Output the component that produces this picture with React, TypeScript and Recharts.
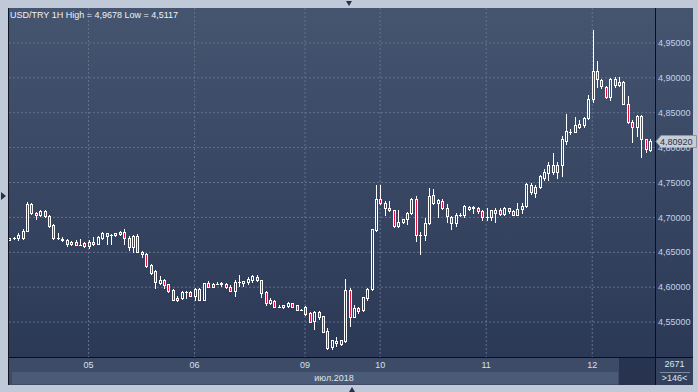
import { Bar, CartesianGrid, ComposedChart, ReferenceLine, XAxis, YAxis } from "recharts";

// hourly USD/TRY candles, 146 bars
const opens = [
  4.668, 4.671, 4.671, 4.67, 4.681, 4.719, 4.706, 4.703, 4.709, 4.702,
  4.689, 4.67, 4.667, 4.667, 4.662, 4.665, 4.661, 4.663, 4.659, 4.665,
  4.662, 4.67, 4.677, 4.675, 4.675, 4.676, 4.679, 4.67, 4.658, 4.673,
  4.651, 4.648, 4.632, 4.623, 4.606, 4.61, 4.604, 4.596, 4.581, 4.584,
  4.593, 4.593, 4.588, 4.598, 4.582, 4.606, 4.601, 4.605, 4.604, 4.605,
  4.601, 4.595, 4.607, 4.606, 4.607, 4.61, 4.614, 4.61, 4.593, 4.577,
  4.58, 4.571, 4.571, 4.573, 4.577, 4.574, 4.568, 4.572, 4.563, 4.551,
  4.565, 4.559, 4.537, 4.514, 4.52, 4.518, 4.523, 4.596, 4.558, 4.57,
  4.567, 4.585, 4.597, 4.682, 4.726, 4.713, 4.713, 4.71, 4.687, 4.693,
  4.697, 4.707, 4.726, 4.675, 4.675, 4.692, 4.732, 4.72, 4.724, 4.714,
  4.701, 4.692, 4.704, 4.703, 4.712, 4.713, 4.714, 4.709, 4.7, 4.7,
  4.706, 4.71, 4.705, 4.713, 4.709, 4.704, 4.712, 4.716, 4.746, 4.735,
  4.743, 4.757, 4.764, 4.775, 4.765, 4.775, 4.81, 4.823, 4.823, 4.83,
  4.832, 4.842, 4.87, 4.91, 4.897, 4.887, 4.873, 4.898, 4.889, 4.894,
  4.863, 4.836, 4.829, 4.845, 4.812, 4.797,
];
const highs = [
  4.671, 4.672, 4.678, 4.683, 4.722, 4.72, 4.708, 4.711, 4.71, 4.703,
  4.69, 4.677, 4.672, 4.669, 4.666, 4.667, 4.669, 4.665, 4.668, 4.672,
  4.673, 4.679, 4.678, 4.676, 4.678, 4.68, 4.683, 4.674, 4.675, 4.676,
  4.652, 4.649, 4.633, 4.624, 4.616, 4.612, 4.605, 4.597, 4.587, 4.594,
  4.594, 4.595, 4.599, 4.599, 4.606, 4.609, 4.606, 4.607, 4.607, 4.606,
  4.603, 4.61, 4.618, 4.609, 4.614, 4.618, 4.617, 4.61, 4.594, 4.584,
  4.581, 4.575, 4.574, 4.579, 4.578, 4.575, 4.569, 4.573, 4.564, 4.566,
  4.566, 4.559, 4.541, 4.525, 4.529, 4.524, 4.612, 4.599, 4.575, 4.571,
  4.586, 4.599, 4.683, 4.746, 4.746, 4.724, 4.723, 4.711, 4.71, 4.698,
  4.708, 4.728, 4.731, 4.679, 4.699, 4.742, 4.741, 4.727, 4.726, 4.719,
  4.702, 4.706, 4.706, 4.718, 4.716, 4.716, 4.715, 4.711, 4.713, 4.711,
  4.713, 4.714, 4.715, 4.714, 4.71, 4.72, 4.72, 4.749, 4.75, 4.746,
  4.761, 4.769, 4.78, 4.792, 4.78, 4.816, 4.848, 4.826, 4.844, 4.84,
  4.844, 4.876, 4.9678, 4.924, 4.898, 4.888, 4.899, 4.901, 4.901, 4.896,
  4.874, 4.84, 4.846, 4.846, 4.813, 4.813,
];
const lows = [
  4.667, 4.669, 4.668, 4.669, 4.68, 4.705, 4.697, 4.702, 4.701, 4.686,
  4.669, 4.669, 4.666, 4.659, 4.661, 4.66, 4.66, 4.657, 4.656, 4.66,
  4.662, 4.669, 4.662, 4.662, 4.674, 4.675, 4.662, 4.654, 4.651, 4.65,
  4.643, 4.629, 4.619, 4.599, 4.604, 4.599, 4.593, 4.581, 4.58, 4.583,
  4.584, 4.587, 4.581, 4.581, 4.581, 4.6, 4.6, 4.604, 4.602, 4.599,
  4.594, 4.587, 4.602, 4.602, 4.605, 4.607, 4.609, 4.586, 4.575, 4.576,
  4.571, 4.571, 4.57, 4.572, 4.571, 4.567, 4.567, 4.56, 4.55, 4.54,
  4.555, 4.536, 4.5117, 4.512, 4.516, 4.517, 4.521, 4.545, 4.558, 4.563,
  4.566, 4.582, 4.596, 4.68, 4.719, 4.703, 4.709, 4.686, 4.686, 4.692,
  4.69, 4.705, 4.666, 4.647, 4.667, 4.691, 4.719, 4.7, 4.712, 4.694,
  4.684, 4.688, 4.702, 4.701, 4.711, 4.707, 4.707, 4.696, 4.696, 4.696,
  4.694, 4.704, 4.704, 4.706, 4.703, 4.703, 4.706, 4.715, 4.734, 4.729,
  4.742, 4.754, 4.754, 4.762, 4.757, 4.76, 4.805, 4.82, 4.822, 4.828,
  4.829, 4.841, 4.866, 4.887, 4.885, 4.871, 4.868, 4.887, 4.888, 4.862,
  4.835, 4.808, 4.817, 4.786, 4.793, 4.795,
];
const closes = [
  4.67, 4.671, 4.675, 4.681, 4.719, 4.706, 4.703, 4.709, 4.702, 4.688,
  4.67, 4.67, 4.669, 4.662, 4.665, 4.661, 4.661, 4.659, 4.665, 4.662,
  4.672, 4.677, 4.673, 4.675, 4.677, 4.679, 4.67, 4.658, 4.673, 4.651,
  4.647, 4.63, 4.621, 4.608, 4.61, 4.603, 4.595, 4.582, 4.585, 4.593,
  4.593, 4.588, 4.598, 4.582, 4.606, 4.601, 4.605, 4.605, 4.606, 4.601,
  4.595, 4.607, 4.607, 4.609, 4.612, 4.616, 4.61, 4.591, 4.577, 4.581,
  4.571, 4.571, 4.574, 4.577, 4.572, 4.568, 4.568, 4.562, 4.55, 4.565,
  4.557, 4.536, 4.513, 4.524, 4.523, 4.524, 4.596, 4.558, 4.57, 4.566,
  4.586, 4.597, 4.683, 4.727, 4.72, 4.72, 4.71, 4.687, 4.693, 4.697,
  4.707, 4.726, 4.675, 4.675, 4.692, 4.73, 4.72, 4.725, 4.714, 4.702,
  4.692, 4.704, 4.704, 4.716, 4.715, 4.715, 4.709, 4.7, 4.7, 4.71,
  4.711, 4.705, 4.713, 4.709, 4.704, 4.712, 4.716, 4.748, 4.737, 4.743,
  4.76, 4.765, 4.775, 4.765, 4.775, 4.813, 4.824, 4.823, 4.833, 4.834,
  4.842, 4.87, 4.91, 4.898, 4.888, 4.873, 4.898, 4.889, 4.894, 4.863,
  4.836, 4.829, 4.845, 4.812, 4.798, 4.8092,
];

const dayTicks = [18, 42, 67, 84, 108, 132];
const dayLabels = ["05", "06", "09", "10", "11", "12"];
const priceTicks = [4.55, 4.6, 4.65, 4.7, 4.75, 4.8, 4.85, 4.9, 4.95];

const data = opens.map((o, i) => ({
  i,
  o,
  h: highs[i],
  l: lows[i],
  c: closes[i],
  range: [lows[i], highs[i]],
}));

const lastClose = closes[closes.length - 1];
const fmt = (v: number, d: number) => v.toFixed(d).replace(".", ",");

function Candle(props: any) {
  const { x, y, width, height, payload } = props;
  if (x == null || y == null) return null;
  const { o, h, l, c } = payload;
  const y0 = Math.min(y, y + height);
  const hh = Math.abs(height);
  const span = h - l || 1;
  const py = (v: number) => y0 + ((h - v) / span) * hh;
  const cx = Math.round(x + width / 2);
  const top = Math.round(py(Math.max(o, c)));
  const bot = Math.round(py(Math.min(o, c)));
  const hi = Math.round(py(h));
  const lo = Math.round(py(l));
  const down = c < o;
  return (
    <g>
      {hi < top && <line x1={cx + 0.5} x2={cx + 0.5} y1={hi} y2={top} stroke="#fff" />}
      {lo > bot && <line x1={cx + 0.5} x2={cx + 0.5} y1={bot + 1} y2={lo + 1} stroke="#fff" />}
      {bot - top < 2 ? (
        <rect x={cx - 1} y={top} width={3} height={Math.max(bot - top + 1, 1)} fill="#fff" />
      ) : (
        <rect
          x={cx - 0.5}
          y={top + 0.5}
          width={2}
          height={bot - top}
          fill={down ? "#e3123e" : "none"}
          stroke="#fff"
        />
      )}
    </g>
  );
}

function PriceTag(props: any) {
  const vb = props.viewBox;
  if (!vb) return null;
  const y = Math.round(vb.y);
  const x = vb.x + vb.width;
  return (
    <g>
      <polygon
        points={`${x + 1},${y + 0.5} ${x + 6},${y - 5.5} ${x + 41.5},${y - 5.5} ${x + 41.5},${y + 6.5} ${x + 6},${y + 6.5}`}
        fill="#c7ccd5"
        stroke="#8c95a5"
      />
      <text x={x + 5} y={y + 4} fontSize={9} fill="#25324a" fontFamily="'Liberation Sans', Arial, sans-serif">
        {fmt(lastClose, 5)}
      </text>
    </g>
  );
}

const abs = (l: number, t: number, w: number, h: number, bg: string) => (
  <div style={{ position: "absolute", left: l, top: t, width: w, height: h, background: bg }} />
);

export default function App() {
  return (
    <div
      style={{
        position: "absolute",
        left: 0,
        top: 0,
        width: 698,
        height: 392,
        overflow: "hidden",
        background: "#bfc9d8",
        fontFamily: "'Liberation Sans', Arial, sans-serif",
      }}
    >
      {abs(9, 8, 684, 350, "linear-gradient(#45546f, #2b3956)")}
      {abs(9, 358, 610, 27, "#3d4b66")}
      {abs(12, 372, 606, 12, "#4b5a76")}
      {abs(619, 358, 36, 27, "#28344f")}
      {abs(656, 358, 37, 27, "#33415c")}
      {abs(8, 8, 1, 377, "#10151f")}
      {abs(655, 8, 1, 377, "#0b0f18")}
      {abs(9, 357, 684, 1, "#0b0f18")}
      {abs(660, 372, 30, 1, "#7d8ca6")}

      <div style={{ position: "absolute", left: 0, top: 0 }}>
        <ComposedChart
          width={698}
          height={392}
          data={data}
          margin={{ top: 8, right: 5, bottom: 20, left: 9 }}
        >
          <CartesianGrid
            stroke="#63728d"
            strokeDasharray="2 2"
            horizontalValues={priceTicks}
            verticalValues={dayTicks}
          />
          <XAxis
            type="number"
            dataKey="i"
            domain={[0, 146.2]}
            allowDataOverflow
            ticks={dayTicks}
            tickFormatter={(v: number) => dayLabels[dayTicks.indexOf(v)] ?? ""}
            height={15}
            axisLine={false}
            tickLine={false}
            tickSize={0}
            tickMargin={5}
            tick={{ fill: "#d6e0f0", fontSize: 9 }}
          />
          <YAxis
            orientation="right"
            domain={[4.5, 5.0]}
            allowDataOverflow
            ticks={priceTicks}
            tickFormatter={(v: number) => fmt(v, 5)}
            width={38}
            axisLine={false}
            tickLine={false}
            tickSize={0}
            tickMargin={3}
            tick={{ fill: "#c3d2ea", fontSize: 9, textAnchor: "start" }}
          />
          <Bar dataKey="range" barSize={3} shape={<Candle />} isAnimationActive={false} />
          <ReferenceLine y={lastClose} stroke="none" label={<PriceTag />} />
        </ComposedChart>
      </div>

      <div
        style={{
          position: "absolute",
          left: 10,
          top: 10,
          fontSize: 9,
          lineHeight: "10px",
          color: "#eef2f8",
          whiteSpace: "nowrap",
        }}
      >
        USD/TRY 1H High = 4,9678 Low = 4,5117
      </div>
      <div
        style={{
          position: "absolute",
          left: 294,
          width: 80,
          top: 373,
          fontSize: 9,
          lineHeight: "10px",
          textAlign: "center",
          color: "#dde4f0",
        }}
      >
        июл.2018
      </div>
      <div
        style={{
          position: "absolute",
          left: 656,
          width: 37,
          top: 359,
          fontSize: 9,
          lineHeight: "10px",
          textAlign: "center",
          color: "#dde4f0",
        }}
      >
        2671
      </div>
      <div
        style={{
          position: "absolute",
          left: 656,
          width: 37,
          top: 373,
          fontSize: 9,
          lineHeight: "10px",
          textAlign: "center",
          color: "#dde4f0",
        }}
      >
        &gt;146&lt;
      </div>

      {/* small frame markers */}
      <div style={{ position: "absolute", left: 346, top: 1, width: 0, height: 0, borderLeft: "3.5px solid transparent", borderRight: "3.5px solid transparent", borderTop: "5px solid #26304a" }} />
      <div style={{ position: "absolute", left: 1, top: 192, width: 0, height: 0, borderTop: "4.5px solid transparent", borderBottom: "4.5px solid transparent", borderLeft: "5px solid #26304a" }} />
      <div style={{ position: "absolute", left: 349, top: 387, width: 0, height: 0, borderLeft: "3.5px solid transparent", borderRight: "3.5px solid transparent", borderBottom: "5px solid #26304a" }} />
    </div>
  );
}
